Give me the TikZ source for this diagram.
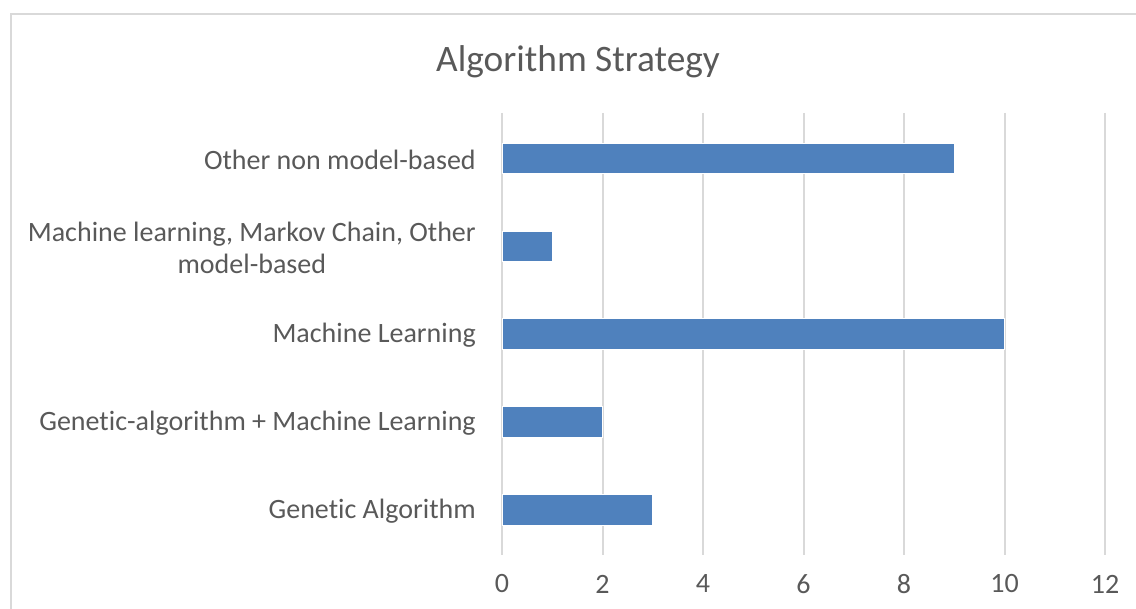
\documentclass[tikz,border=0pt]{standalone}
\usepackage{fontspec}
\setmainfont[Ligatures=NoCommon]{Carlito}
\usepackage{tikz}

\definecolor{barblue}{HTML}{4F81BD}
\definecolor{gridgray}{HTML}{D9D9D9}
\definecolor{textgray}{HTML}{595959}

\tikzset{
  catlabel/.style={anchor=east, text=textgray, font=\fontsize{21}{24}\selectfont, inner sep=0pt},
  ticklabel/.style={text=textgray, font=\fontsize{21}{24}\selectfont, inner sep=0pt},
  bar/.style={fill=barblue, draw=white, line width=0.5pt}
}

\begin{document}
\begin{tikzpicture}[x=0.75pt, y=-0.75pt]
  \useasboundingbox (0,0) rectangle (1136,609);
  \draw[gridgray, line width=1.5pt] (10.5,14.5) rectangle (1145,620);

  \node (title) at (578,62) [text=textgray, font=\fontsize{28}{32}\selectfont] {Algorithm Strategy};

  % gridlines and ticks
  \foreach \v in {0,2,...,12} {
    \draw[gridgray, line width=1.5pt] (502+50.25*\v,113) -- (502+50.25*\v,555);
    \node (tick\v) at (502+50.25*\v,584) [ticklabel] {\v};
  }

  % bars
  \fill[bar] (502,143) rectangle (502+50.25*9,173);
  \fill[bar] (502,231) rectangle (502+50.25*1,261);
  \fill[bar] (502,318) rectangle (502+50.25*10,349);
  \fill[bar] (502,406) rectangle (502+50.25*2,437);
  \fill[bar] (502,494) rectangle (502+50.25*3,525);

  % category labels
  \node (other)   at (476,160) [catlabel] {Other non model-based};
  \node (mlmarkov) at (476,248) [catlabel, align=center] {Machine learning, Markov Chain, Other\\model-based};
  \node (ml)      at (476,335) [catlabel] {Machine Learning};
  \node (gaml)    at (476,423) [catlabel] {Genetic-algorithm + Machine Learning};
  \node (ga)      at (476,511) [catlabel] {Genetic Algorithm};
\end{tikzpicture}
\end{document}
